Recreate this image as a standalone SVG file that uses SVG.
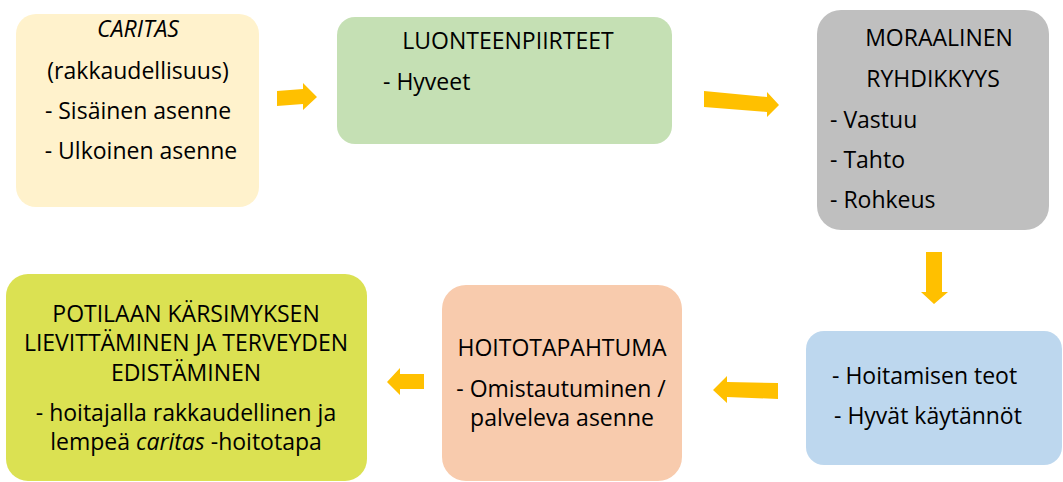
<svg xmlns="http://www.w3.org/2000/svg" width="1063" height="482" viewBox="0 0 1063 482">
<style>
.t{font-family:"Open Sans","Liberation Sans",sans-serif;font-size:23px;fill:#000}
.m{text-anchor:middle}
.i{font-style:italic}
.arr{fill:#FFC000}
</style>
<rect width="1063" height="482" fill="#fff"/>
<g id="connectors">
<polygon class="arr" points="277,91 303,89 303,83 317,97 303,110 303,104 277,106"/>
<polygon class="arr" points="704,91 767,97 767,92 779,105 767,117 767,112 704,107"/>
<polygon class="arr" points="926,252 942,252 942,292 948,292 934,304 921,292 926,292"/>
<polygon class="arr" points="778,383 727,382 727,376 713,390 727,403 727,397 778,399"/>
<polygon class="arr" points="424,374 400,374 400,368 387,382 400,395 400,389 424,389"/>
</g>
<g id="caritas">
<rect x="16" y="14" width="243" height="193" rx="20" fill="#FFF2CC"/>
<text class="t m i" x="138" y="37">CARITAS</text>
<text class="t m" x="138" y="79">(rakkaudellisuus)</text>
<text class="t m" x="138" y="119">- Sisäinen asenne</text>
<text class="t m" x="141" y="159">- Ulkoinen asenne</text>
</g>
<g id="luonteenpiirteet">
<rect x="337" y="17" width="335" height="127" rx="18" fill="#C5E0B4"/>
<text class="t m" x="508" y="49">LUONTEENPIIRTEET</text>
<text class="t" x="383" y="90">- Hyveet</text>
</g>
<g id="moraalinen">
<rect x="817" y="10" width="232" height="220" rx="24" fill="#BFBFBF"/>
<text class="t m" x="939" y="46">MORAALINEN</text>
<text class="t m" x="933" y="87">RYHDIKKYYS</text>
<text class="t" x="830" y="128">- Vastuu</text>
<text class="t" x="830" y="168">- Tahto</text>
<text class="t" x="830" y="208">- Rohkeus</text>
</g>
<g id="hoitamisen">
<rect x="806" y="331" width="256" height="134" rx="18" fill="#BDD7EE"/>
<text class="t" x="832" y="384">- Hoitamisen teot</text>
<text class="t" x="834" y="424">- Hyvät käytännöt</text>
</g>
<g id="hoitotapahtuma">
<rect x="442" y="285" width="240" height="196" rx="24" fill="#F8CBAD"/>
<text class="t m" x="562" y="356">HOITOTAPAHTUMA</text>
<text class="t m" x="561" y="397">- Omistautuminen /</text>
<text class="t m" x="562" y="426">palveleva asenne</text>
</g>
<g id="potilaan">
<rect x="6" y="274" width="361" height="207" rx="22" fill="#DBE152"/>
<text class="t m" x="186" y="322">POTILAAN KÄRSIMYKSEN</text>
<text class="t m" x="186" y="351">LIEVITTÄMINEN JA TERVEYDEN</text>
<text class="t m" x="186" y="381">EDISTÄMINEN</text>
<text class="t m" x="186" y="421">- hoitajalla rakkaudellinen ja</text>
<text class="t m" x="186" y="450">lempeä <tspan class="i">caritas</tspan> -hoitotapa</text>
</g>
</svg>
